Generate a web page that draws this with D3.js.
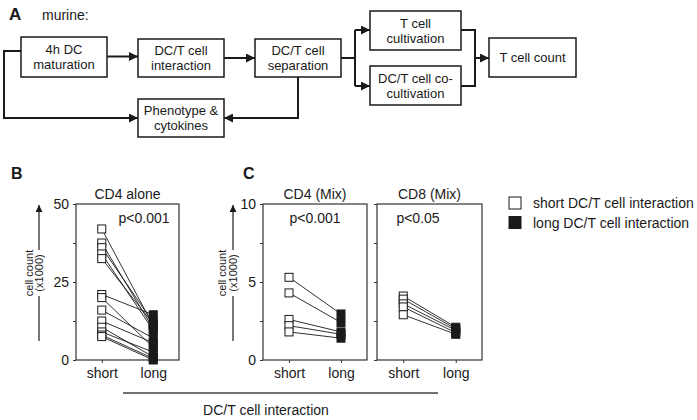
<!DOCTYPE html>
<html><head><meta charset="utf-8">
<script src="https://cdn.jsdelivr.net/npm/d3@7"></script>
<style>
body{margin:0;background:#fff;}
svg{display:block;font-family:"Liberation Sans",Arial,sans-serif;}
</style></head>
<body>
<svg id="chart" width="697" height="420"></svg>
<script>
// ---------- DATA ----------
const categories = ["short", "long"];
// Panel B: CD4 alone (cell count x1000)
const cd4AloneShort = [42, 37.5, 36, 34, 32.5, 21, 20, 16, 12.5, 10.5, 9, 8, 7.5];
const cd4AloneLong  = [11, 10, 12, 9.5, 11.5, 14.5, 4, 7, 5.5, 1, 2.5, 0.5, 0];
// Panel C: CD4 (Mix)
const cd4MixShort = [5.3, 4.3, 2.6, 2.2, 1.8];
const cd4MixLong  = [2.95, 2.4, 1.8, 1.65, 1.4];
// Panel C: CD8 (Mix)
const cd8MixShort = [4.1, 3.9, 3.6, 3.4, 2.9];
const cd8MixLong  = [2.1, 2.0, 1.9, 1.75, 1.65];
// Axis ticks
const ticksB = [0, 12.5, 25, 37.5, 50];
const tickLabelsB = ["0", "", "25", "", "50"];
const ticksC = [0, 2.5, 5, 7.5, 10];
const tickLabelsC = ["0", "", "5", "", "10"];
// Texts
const panelTitles = ["CD4 alone", "CD4 (Mix)", "CD8 (Mix)"];
const pValues = ["p<0.001", "p<0.001", "p<0.05"];
const legendLabels = ["short DC/T cell interaction", "long DC/T cell interaction"];
const flowTexts = [
  ["4h DC", "maturation"],
  ["DC/T cell", "interaction"],
  ["DC/T cell", "separation"],
  ["Phenotype &", "cytokines"],
  ["T cell", "cultivation"],
  ["DC/T cell co-", "cultivation"],
  ["T cell count"]
];

const svg = d3.select("#chart");
const ink = "#1a1a1a";

// arrow marker
const defs = svg.append("defs");
defs.append("marker").attr("id", "arr")
  .attr("markerUnits", "userSpaceOnUse")
  .attr("markerWidth", 9).attr("markerHeight", 9)
  .attr("refX", 9).attr("refY", 4.5).attr("orient", "auto")
  .append("path").attr("d", "M0,0L9,4.5L0,9Z").attr("fill", ink);
defs.append("marker").attr("id", "arrS")
  .attr("markerUnits", "userSpaceOnUse")
  .attr("markerWidth", 7).attr("markerHeight", 8)
  .attr("refX", 7).attr("refY", 3.5).attr("orient", "auto")
  .append("path").attr("d", "M0,0L7,3.5L0,7Z").attr("fill", ink);

// ---------- PANEL A: flow chart ----------
svg.append("text").attr("x", 9).attr("y", 20).attr("font-size", 17).attr("font-weight", "bold").attr("fill", ink).text("A");
svg.append("text").attr("x", 42).attr("y", 20).attr("font-size", 14).attr("fill", ink).text("murine:");

const boxes = [
  {x: 21, y: 37, w: 86, h: 40},
  {x: 138, y: 39, w: 86, h: 38},
  {x: 255, y: 39, w: 86, h: 38},
  {x: 138, y: 99, w: 86, h: 38},
  {x: 370, y: 11, w: 91, h: 39},
  {x: 370, y: 66, w: 91, h: 39},
  {x: 489, y: 38, w: 87, h: 39}
];
const gA = svg.append("g");
const connectors = [
  {d: "M107,56.5H138", arrow: true},
  {d: "M224,58H255", arrow: true},
  {d: "M21,51H4V118H138", arrow: true},
  {d: "M298,77V118H224", arrow: true},
  {d: "M341,58H355", arrow: false},
  {d: "M355,30V86", arrow: false},
  {d: "M355,30H370", arrow: true},
  {d: "M355,86H370", arrow: true},
  {d: "M461,30H475V86H461", arrow: false},
  {d: "M475,58H489", arrow: true}
];
gA.selectAll("path.conn").data(connectors).join("path")
  .attr("d", d => d.d).attr("fill", "none").attr("stroke", ink).attr("stroke-width", 2)
  .attr("marker-end", d => d.arrow ? "url(#arr)" : null);
const bg = gA.selectAll("g.box").data(boxes).join("g");
bg.append("rect").attr("x", d => d.x).attr("y", d => d.y).attr("width", d => d.w).attr("height", d => d.h)
  .attr("fill", "#fff").attr("stroke", ink).attr("stroke-width", 1.5);
bg.each(function(d, i) {
  const lines = flowTexts[i];
  const cy = d.y + d.h / 2;
  const lh = 15;
  lines.forEach((t, j) => {
    d3.select(this).append("text")
      .attr("x", d.x + d.w / 2)
      .attr("y", cy + (j - (lines.length - 1) / 2) * lh)
      .attr("dy", "0.36em")
      .attr("text-anchor", "middle").attr("font-size", 13).attr("fill", ink).text(t);
  });
});

// ---------- PANELS B & C ----------
const plotTop = 204, plotBottom = 360;
const panels = [
  {left: 76, right: 179, short: cd4AloneShort, long: cd4AloneLong, ticks: ticksB, labels: tickLabelsB, max: 50, title: panelTitles[0], p: pValues[0], px: 144},
  {left: 263, right: 367, short: cd4MixShort, long: cd4MixLong, ticks: ticksC, labels: tickLabelsC, max: 10, title: panelTitles[1], p: pValues[1], px: 315},
  {left: 377, right: 482, short: cd8MixShort, long: cd8MixLong, ticks: ticksC, labels: null, max: 10, title: panelTitles[2], p: pValues[2], px: 418}
];

const sq = 8;
panels.forEach(P => {
  const g = svg.append("g");
  const x = d3.scalePoint().domain(categories).range([P.left, P.right]).padding(0.5);
  const y = d3.scaleLinear().domain([0, P.max]).range([plotBottom, plotTop]);

  // box
  g.append("rect").attr("x", P.left).attr("y", plotTop).attr("width", P.right - P.left).attr("height", plotBottom - plotTop)
    .attr("fill", "none").attr("stroke", "#333").attr("stroke-width", 1.2);

  // y axis
  const ya = d3.axisLeft(y).tickValues(P.ticks).tickSize(3).tickPadding(4)
    .tickFormat((d, i) => P.labels ? P.labels[i] : "");
  const gy = g.append("g").attr("transform", `translate(${P.left},0)`).call(ya);
  gy.select(".domain").remove();
  gy.selectAll("line").attr("stroke", "#333");
  gy.selectAll("text").attr("font-size", 14).attr("fill", ink).attr("font-family", "Liberation Sans, Arial, sans-serif");

  // x axis
  const xa = d3.axisBottom(x).tickSize(3).tickPadding(5);
  const gx = g.append("g").attr("transform", `translate(0,${plotBottom})`).call(xa);
  gx.select(".domain").remove();
  gx.selectAll("line").attr("stroke", "#333");
  gx.selectAll("text").attr("font-size", 14).attr("fill", ink).attr("font-family", "Liberation Sans, Arial, sans-serif");

  // connecting lines
  const pairs = P.short.map((s, i) => ({s, l: P.long[i]}));
  g.selectAll("line.pair").data(pairs).join("line")
    .attr("x1", x("short")).attr("y1", d => y(d.s))
    .attr("x2", x("long")).attr("y2", d => y(d.l))
    .attr("stroke", ink).attr("stroke-width", 0.9);
  // short squares
  g.selectAll("rect.s").data(P.short).join("rect")
    .attr("x", x("short") - sq / 2).attr("y", d => y(d) - sq / 2)
    .attr("width", sq).attr("height", sq)
    .attr("fill", "#fff").attr("stroke", ink).attr("stroke-width", 1);
  // long squares
  g.selectAll("rect.l").data(P.long).join("rect")
    .attr("x", x("long") - sq / 2).attr("y", d => y(d) - sq / 2)
    .attr("width", sq).attr("height", sq)
    .attr("fill", ink).attr("stroke", ink).attr("stroke-width", 1);

  // title & p value
  g.append("text").attr("x", (P.left + P.right) / 2).attr("y", 199).attr("text-anchor", "middle")
    .attr("font-size", 14).attr("fill", ink).text(P.title);
  g.append("text").attr("x", P.px).attr("y", 223).attr("text-anchor", "middle")
    .attr("font-size", 14).attr("fill", ink).text(P.p);
});

// y labels with arrows
[{lx: 39, tx: 29}, {lx: 233, tx: 222}].forEach(a => {
  svg.append("line").attr("x1", a.lx).attr("x2", a.lx).attr("y1", 341).attr("y2", 296).attr("stroke", ink).attr("stroke-width", 1.2);
  svg.append("line").attr("x1", a.lx).attr("x2", a.lx).attr("y1", 250).attr("y2", 205)
    .attr("stroke", ink).attr("stroke-width", 1.2).attr("marker-end", "url(#arrS)");
  svg.append("text").attr("transform", `translate(${a.tx},273) rotate(-90)`).attr("text-anchor", "middle")
    .attr("dy", "0.35em").attr("font-size", 11).attr("fill", ink).text("cell count");
  svg.append("text").attr("transform", `translate(${a.lx},273) rotate(-90)`).attr("text-anchor", "middle")
    .attr("dy", "0.35em").attr("font-size", 11).attr("fill", ink).text("(x1000)");
});

// panel letters
svg.append("text").attr("x", 11).attr("y", 179).attr("font-size", 16).attr("font-weight", "bold").attr("fill", ink).text("B");
svg.append("text").attr("x", 243).attr("y", 179).attr("font-size", 16).attr("font-weight", "bold").attr("fill", ink).text("C");

// bottom bracket
svg.append("line").attr("x1", 123).attr("x2", 438).attr("y1", 393).attr("y2", 393).attr("stroke", "#444").attr("stroke-width", 1.5);
svg.append("text").attr("x", 266).attr("y", 415).attr("text-anchor", "middle").attr("font-size", 14).attr("fill", ink).text("DC/T cell interaction");

// legend
const lg = svg.append("g");
legendLabels.forEach((t, i) => {
  const cy = 203 + i * 19.5;
  lg.append("rect").attr("x", 509).attr("y", cy - 6).attr("width", 12).attr("height", 12)
    .attr("fill", i === 0 ? "#fff" : ink).attr("stroke", ink).attr("stroke-width", 1);
  lg.append("text").attr("x", 533).attr("y", cy).attr("dy", "0.36em").attr("font-size", 14).attr("fill", ink).text(t);
});
</script>
</body></html>
